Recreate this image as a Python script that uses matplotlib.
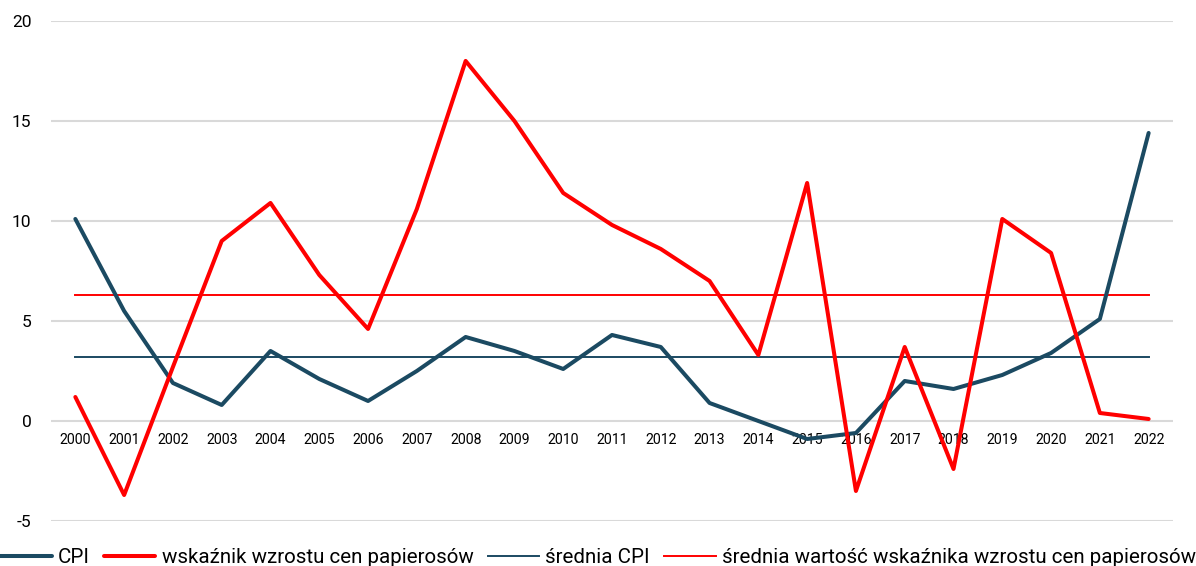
import matplotlib.pyplot as plt
import numpy as np

years = [str(y) for y in range(2000, 2023)]
cpi = [10.1, 5.5, 1.9, 0.8, 3.5, 2.1, 1.0, 2.5, 4.2, 3.5, 2.6, 4.3, 3.7,
       0.9, 0.0, -0.9, -0.6, 2.0, 1.6, 2.3, 3.4, 5.1, 14.4]
cig = [1.2, -3.7, 2.7, 9.0, 10.9, 7.3, 4.6, 10.6, 18.0, 15.0, 11.4, 9.8, 8.6,
       7.0, 3.3, 11.9, -3.5, 3.7, -2.4, 10.1, 8.4, 0.4, 0.1]
cpi_mean = 3.2
cig_mean = 6.3

labels = ['CPI', 'wskaźnik wzrostu cen papierosów', 'średnia CPI',
          'średnia wartość wskaźnika wzrostu cen papierosów']

plt.rcParams['font.family'] = ['Roboto', 'DejaVu Sans']
plt.rcParams['axes.unicode_minus'] = False

blue = '#1b4a62'
red = '#ff0000'

fig = plt.figure(figsize=(11.96, 5.66), dpi=100)
ax = fig.add_axes([0.0426, 0.0795, 0.9382, 0.8835])

x = np.arange(len(years))
ax.plot(x, cpi, color=blue, lw=2.9, label=labels[0], solid_capstyle='round', zorder=4)
ax.plot(x, cig, color=red, lw=2.9, label=labels[1], solid_capstyle='round', zorder=5)
ax.plot(x, [cpi_mean] * len(x), color=blue, lw=1.4, label=labels[2], zorder=3)
ax.plot(x, [cig_mean] * len(x), color=red, lw=1.4, label=labels[3], zorder=3)

ax.set_xlim(-0.5, len(years) - 0.5)
ax.set_ylim(-5, 20)
ax.set_yticks(np.arange(-5, 21, 5))
ax.yaxis.grid(True, color='#d9d9d9', lw=1.5)
ax.set_axisbelow(True)
for s in ax.spines.values():
    s.set_visible(False)
ax.spines['bottom'].set_position(('data', 0))

ax.set_xticks(x)
ax.set_xticklabels(years)
ax.tick_params(axis='x', length=0, pad=9, labelsize=10.2)
ax.tick_params(axis='y', length=0, pad=14, labelsize=12.5)

fig.legend(loc='lower center', bbox_to_anchor=(0.5, -0.035), ncol=4, frameon=False,
           fontsize=14.8, handlelength=2.5, handletextpad=0.3, columnspacing=0.7)

fig.savefig('out.png')
